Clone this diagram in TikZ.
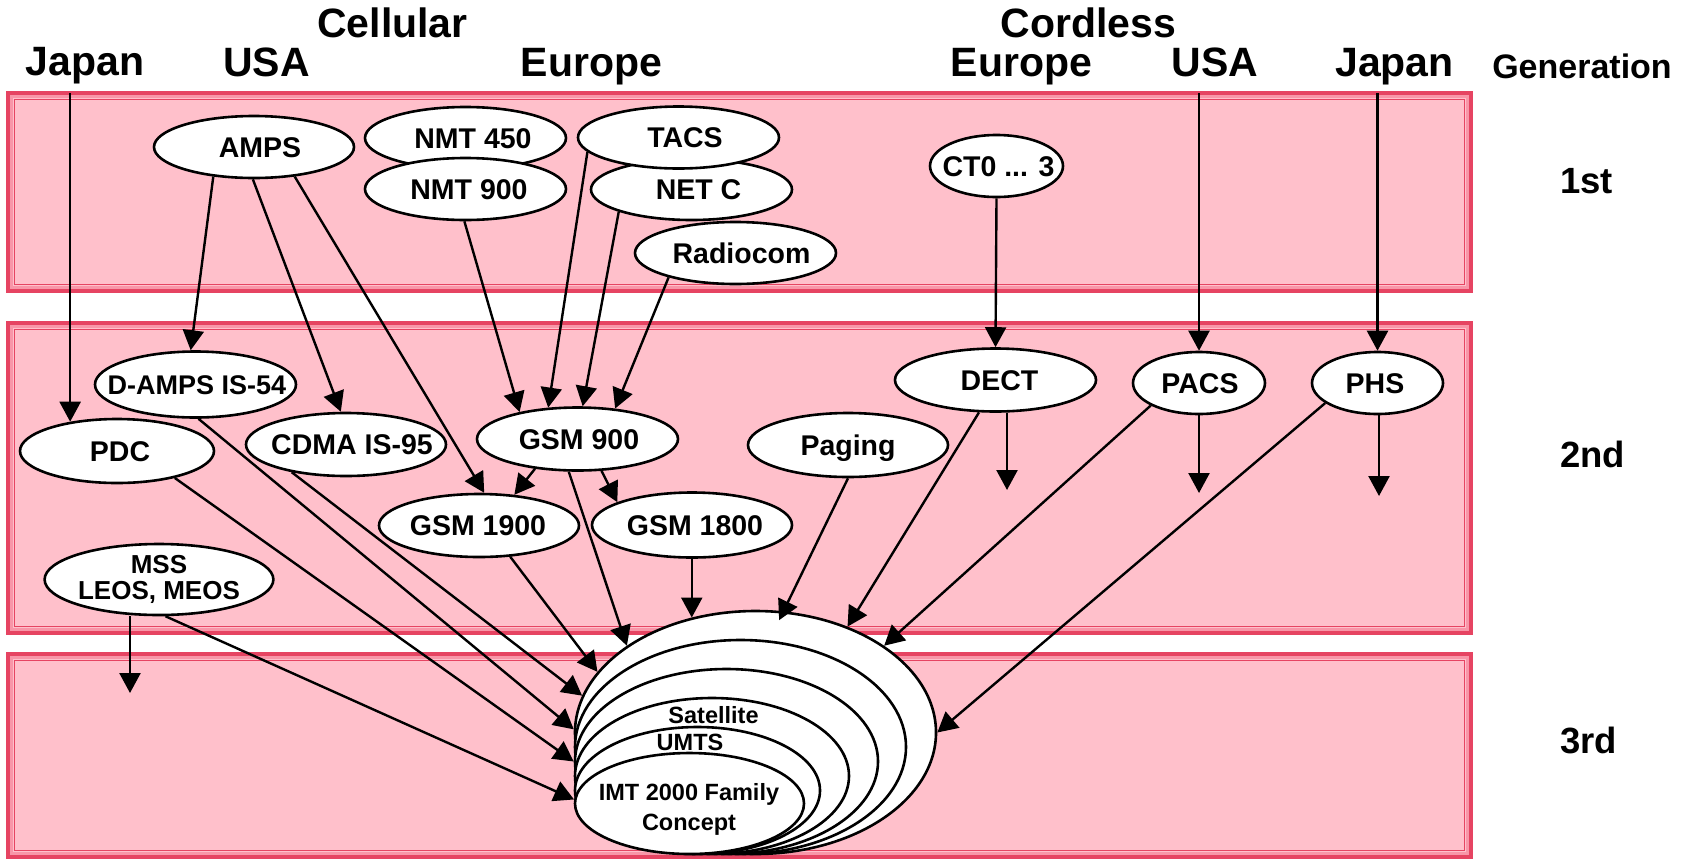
\documentclass[tikz,border=0pt]{standalone}
\usepackage{fontspec}
\setmainfont{Liberation Sans}
\usetikzlibrary{arrows.meta,shapes.geometric,calc}
\definecolor{bandpink}{RGB}{255,192,203}
\definecolor{bandred}{RGB}{230,68,98}
\definecolor{bandlight}{RGB}{248,150,168}
\newcommand\zb[2][0pt]{\makebox[0pt]{\kern#1\relax #2}}
\tikzset{
  band/.style={fill=bandpink, draw=bandred, line width=3.5pt},
  bandmid/.style={draw=bandlight, line width=2.5pt},
  bandin/.style={draw=bandred, line width=1.8pt},
  ell/.style={ellipse, draw=black, fill=white, line width=2.6pt, inner sep=0pt,
    text height=20.5pt, text depth=0pt,
    font=\fontsize{28.5}{30}\selectfont\bfseries,
    minimum width=200pt, minimum height=62pt},
  bigell/.style={ellipse, draw=black, fill=white, line width=2.6pt, inner sep=0pt},
  arr/.style={-{Triangle[length=20pt,width=21pt]}, line width=2.4pt},
  hdr/.style={anchor=base, inner sep=0pt, font=\fontsize{41}{45}\selectfont\bfseries},
  gen/.style={anchor=base west, inner sep=0pt, font=\fontsize{36.5}{40}\selectfont\bfseries},
  small/.style={anchor=base, inner sep=0pt, font=\fontsize{23.5}{25}\selectfont\bfseries}
}
\begin{document}
\begin{tikzpicture}[x=1pt,y=-1pt]
\useasboundingbox (0,0) rectangle (1685,860);
% bands
\foreach \t/\b in {93/291,323/633,654/857}{
  \draw[band] (8,\t) rectangle (1471,\b);
  \draw[bandmid] (11.5,\t+3.5) rectangle (1467.5,\b-3.5);
  \draw[bandin] (14.5,\t+6.5) rectangle (1464.5,\b-6.5);
}
% headers
\node[hdr] (hJapanC) at (85,75) {Japan};
\node[hdr] (hUSAC) at (266.5,76) {USA};
\node[hdr] (hCell) at (392.5,37) {Cellular};
\node[hdr] (hEuroC) at (591.5,76) {Europe};
\node[hdr] (hCord) at (1088.5,37) {Cordless};
\node[hdr] (hEuroD) at (1021.5,76) {Europe};
\node[hdr] (hUSAD) at (1215,76) {USA};
\node[hdr] (hJapanD) at (1394.5,76) {Japan};
\node[hdr, font=\fontsize{34}{36}\selectfont\bfseries] (hGen) at (1582,78) {Generation};
\node[gen] (g1) at (1560,193) {1st};
\node[gen] (g2) at (1560,467) {2nd};
\node[gen] (g3) at (1560,753) {3rd};
% first generation
\node[ell] (AMPS) at (254,147) {\zb[12pt]{AMPS}};
\node[ell, minimum width=201pt] (NMTa) at (465.5,138) {\zb[15pt]{NMT 450}};
\node[ell, minimum width=201pt] (NMTb) at (465.5,189) {\zb[7pt]{NMT 900}};
\node[ell, minimum width=201pt, minimum height=61pt] (NETC) at (691.5,189.5) {\zb[14pt]{NET C}};
\node[ell, minimum width=201pt] (TACS) at (678.5,137.5) {\zb[13pt]{TACS}};
\node[ell, minimum width=201pt] (Radio) at (735.5,253) {\zb[12pt]{Radiocom}};
\node[ell, minimum width=133pt] (CT) at (996.5,166) {\zb[4pt]{CT0 ... 3}};
% second generation
\node[ell, minimum width=201pt, minimum height=63pt] (DECT) at (995.5,380) {\zb[8pt]{DECT}};
\node[ell, minimum width=132pt] (PACS) at (1199,383) {\zb[2pt]{PACS}};
\node[ell, minimum width=131pt] (PHS) at (1377.5,383) {\zb[-5pt]{PHS}};
\node[ell, minimum height=64pt] (Paging) at (848,445) {\zb{Paging}};
\node[ell, minimum width=201pt, minimum height=63pt] (GSMa) at (577.5,439) {\zb[3pt]{GSM 900}};
\node[ell, minimum height=63pt] (GSMb) at (479,525.5) {\zb[-2pt]{GSM 1900}};
\node[ell, minimum height=65pt] (GSMc) at (692,525) {\zb[6pt]{GSM 1800}};
\node[ell, minimum width=201pt, minimum height=66pt, font=\fontsize{27}{30}\selectfont\bfseries] (DAMPS) at (195.5,384.5) {\zb[3pt]{D-AMPS IS-54}};
\node[ell, minimum width=194pt, minimum height=64pt] (PDC) at (117,451) {\zb[6pt]{PDC}};
\node[ell, minimum height=63pt] (CDMA) at (346,444.5) {\zb[12pt]{CDMA IS-95}};
\node[ell, minimum width=226pt, minimum height=71pt, text height=, text depth=, align=center,
  font=\fontsize{26}{25.5}\selectfont\bfseries] (MSS) at (159,579.5) {MSS\\LEOS, MEOS};
% third generation family
\node[bigell, minimum width=361pt, minimum height=243pt] (e1) at (755.5,732.5) {};
\node[bigell, minimum width=331pt, minimum height=214pt] (e2) at (740.5,747) {};
\node[bigell, minimum width=303pt, minimum height=185pt] (e3) at (726.5,761.5) {};
\node[bigell, minimum width=274pt, minimum height=156pt] (e4) at (712,776) {};
\node[bigell, minimum width=245pt, minimum height=127pt] (e5) at (697.5,790.5) {};
\node[bigell, minimum width=229pt, minimum height=101pt] (e6) at (689.5,803.5) {};
\node[small] (tSat) at (713.5,723) {Satellite};
\node[small] (tUMTS) at (690,750) {UMTS};
\node[small] (tIMT) at (689,800) {IMT 2000 Family};
\node[small] (tConc) at (689,830) {Concept};
% free ends
\coordinate (topline) at (0,93);
\coordinate (mssend) at (130,693);
\coordinate (dectend) at (1007,490);
\coordinate (pacsend) at (1199,493);
\coordinate (phsend) at (1379,496);
% connectors
\draw[arr] (PDC.148 |- topline) -- (PDC.148);
\draw[arr] (PACS.north |- topline) -- (PACS.north);
\draw[arr] (PHS.north |- topline) -- (PHS.north);
\draw[arr] (AMPS.216) -- (DAMPS.98);
\draw[arr] (AMPS.268) -- (CDMA.99);
\draw[arr] (AMPS.324) -- (GSMb.81);
\draw[arr] (NMTb.268) -- (GSMa.155);
\draw[arr] (TACS.189) -- (GSMa.133);
\draw[arr] (NETC.197) -- (GSMa.81);
\draw[arr] (Radio.200) -- (GSMa.39);
\draw[arr] (CT.south) -- (DECT.north);
\draw[arr] (GSMa.215) -- (GSMb.41);
\draw[arr] (GSMa.307) -- (GSMc.163);
\draw[arr] (GSMa.255) -- (e1.146);
\draw[arr] (GSMb.315) -- (e1.159);
\draw[arr] (CDMA.207) -- (e1.168);
\draw[arr] (DAMPS.275) -- (e1.179);
\draw[arr] (PDC.335) -- (e3.180);
\draw[arr] (MSS.280) -- (e6.178);
\draw[arr] (MSS.south -| mssend) -- (mssend);
\draw[arr] (GSMc.south -| e1.119) -- (e1.119);
\draw[arr, shorten >=-10pt] (Paging.270) -- (e1.77);
\draw[arr] (DECT.243) -- (e1.49);
\draw[arr] (PACS.205) -- (e1.34);
\draw[arr] (PHS.201) -- (e1.0);
\draw[arr] (DECT.south -| dectend) -- (dectend);
\draw[arr] (PACS.south -| pacsend) -- (pacsend);
\draw[arr] (PHS.south -| phsend) -- (phsend);
\end{tikzpicture}
\end{document}
